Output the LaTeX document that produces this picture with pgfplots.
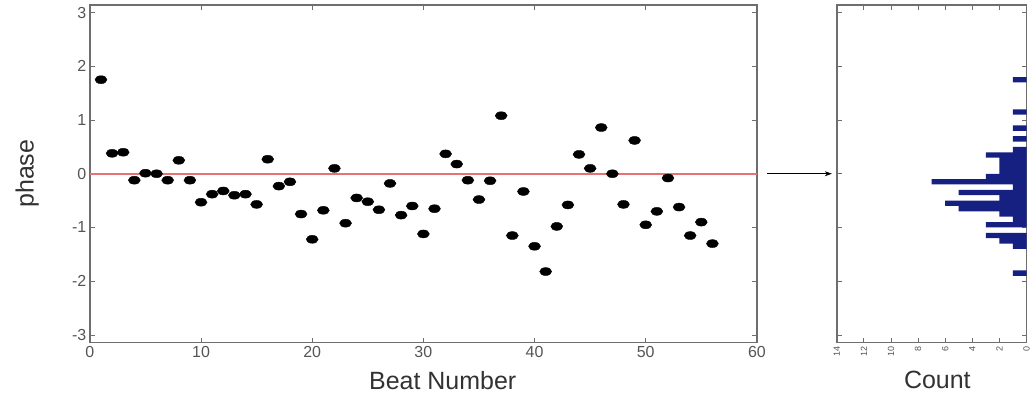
\documentclass[border=0pt]{standalone}
\usepackage{pgfplots}
\pgfplotsset{compat=1.18}
\usepackage{pgfplotstable}
\usepackage{fontspec}
\setmainfont{Liberation Sans}
\usetikzlibrary{arrows.meta}
\definecolor{axgray}{RGB}{110,110,110}
\definecolor{tickgray}{RGB}{85,85,85}
\definecolor{labgray}{RGB}{50,50,50}
\definecolor{navy}{RGB}{22,32,128}
\definecolor{zeroline}{RGB}{230,115,115}

\pgfplotstableread{
x y
1 1.75
2 0.38
3 0.40
4 -0.12
5 0.01
6 0.00
7 -0.12
8 0.25
9 -0.12
10 -0.53
11 -0.38
12 -0.32
13 -0.40
14 -0.38
15 -0.57
16 0.27
17 -0.23
18 -0.15
19 -0.75
20 -1.22
21 -0.68
22 0.10
23 -0.92
24 -0.45
25 -0.52
26 -0.67
27 -0.18
28 -0.77
29 -0.60
30 -1.12
31 -0.65
32 0.37
33 0.18
34 -0.12
35 -0.48
36 -0.13
37 1.08
38 -1.15
39 -0.33
40 -1.35
41 -1.82
42 -0.98
43 -0.58
44 0.36
45 0.10
46 0.86
47 0.00
48 -0.57
49 0.62
50 -0.95
51 -0.70
52 -0.08
53 -0.62
54 -1.15
55 -0.90
56 -1.30
}\beats

\pgfplotstableread{
c p
1 1.75
1 1.15
1 0.85
1 0.65
1 0.45
3 0.35
2 0.25
2 0.15
2 0.05
3 -0.05
7 -0.15
1 -0.25
5 -0.35
2 -0.45
6 -0.55
5 -0.65
2 -0.75
1 -0.85
3 -0.95
3 -1.15
2 -1.25
1 -1.35
1 -1.85
}\hist

\pgfplotstableread{
x y
0 0
60 0
}\zero

\begin{document}
\begin{tikzpicture}
\path (0,0) rectangle (1033pt,-396pt);
\begin{axis}[
 at={(90pt,-343pt)}, anchor=south west,
 scale only axis, width=668pt, height=338pt,
 xmin=0, xmax=60, ymin=-3.14, ymax=3.14,
 xtick={0,10,...,60}, ytick={-3,...,3},
 tick align=inside, major tick length=5pt,
 axis line style={axgray, line width=1.6pt},
 every tick/.style={axgray, line width=0.8pt},
 tick label style={font=\fontsize{16}{18}\selectfont, text=tickgray},
 /pgf/number format/assume math mode=true,
 xlabel={Beat Number}, ylabel={phase},
 label style={font=\fontsize{25}{30}\selectfont, text=labgray},
 xlabel style={at={(axis description cs:0.529,-0.112)}, anchor=center},
 ylabel style={at={(axis description cs:-0.094,0.5)}, anchor=center},
]
\addplot[no marks, solid, zeroline, line width=1.7pt, forget plot] table[x=x,y=y]{\zero};
\addplot[only marks, mark=*, mark size=4pt, mark options={xscale=1.5, fill=black, draw=black}] table[x=x,y=y]{\beats};
\coordinate (arrA) at (axis cs:60,0);
\end{axis}
\begin{axis}[
 at={(838pt,-343pt)}, anchor=south west,
 scale only axis, width=190pt, height=338pt,
 xmin=0, xmax=14, x dir=reverse, ymin=-3.14, ymax=3.14,
 xtick={0,2,...,14}, ytick={-3,...,3}, yticklabels={},
 tick align=inside, major tick length=5pt,
 axis line style={axgray, line width=1.6pt},
 every tick/.style={axgray, line width=0.8pt},
 xticklabel style={rotate=90, anchor=east, font=\fontsize{9}{10}\selectfont, text=tickgray},
 /pgf/number format/assume math mode=true,
 xlabel={Count},
 label style={font=\fontsize{25}{30}\selectfont, text=labgray},
 xlabel style={at={(axis description cs:0.53,-0.11)}, anchor=center},
]
\addplot[xbar, bar width=0.1, bar shift=0pt, fill=navy, draw=none] table[x=c,y=p]{\hist};
\coordinate (arrB) at (axis cs:14,0);
\end{axis}
\draw[black, line width=0.6pt, -{Stealth[length=7pt,width=5pt]}] ([xshift=10pt]arrA) -- ([xshift=-5pt]arrB);
\end{tikzpicture}
\end{document}
